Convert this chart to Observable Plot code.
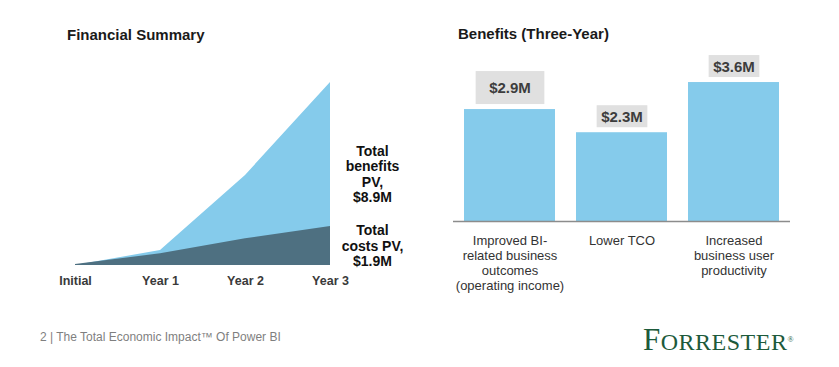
<!DOCTYPE html>
<html>
<head>
<meta charset="utf-8">
<script src="https://cdn.jsdelivr.net/npm/d3@7"></script>
<script src="https://cdn.jsdelivr.net/npm/@observablehq/plot@0.6"></script>
<style>
  html, body { margin: 0; padding: 0; background: #fff; }
  #page { position: relative; width: 839px; height: 367px; background: #fff; overflow: hidden;
          font-family: "Liberation Sans", Arial, sans-serif; }
  .title { position: absolute; font-weight: bold; font-size: 15px; line-height: 17px; color: #1a1a1a; white-space: nowrap; }
  .footer { position: absolute; left: 40px; top: 330px; font-size: 12px; line-height: 14px; color: #7f7f7f; white-space: nowrap; }
  .chart { position: absolute; }
</style>
</head>
<body>
<div id="page">
  <div class="title" style="left:67px; top:26px;">Financial Summary</div>
  <div class="title" style="left:458px; top:25px;">Benefits (Three-Year)</div>
  <div id="left" class="chart" style="left:0px; top:50px;"></div>
  <div id="right" class="chart" style="left:440px; top:50px;"></div>
  <div class="footer">2 | The Total Economic Impact™ Of Power BI</div>
  <svg style="position:absolute; left:630px; top:320px;" width="200" height="40">
    <text x="13" y="30" fill="#1d5a3b" font-family="'Liberation Serif', 'Times New Roman', serif" letter-spacing="0.5"><tspan font-size="31">F</tspan><tspan font-size="24">ORRESTER</tspan><tspan font-size="8" dy="-8">®</tspan></text>
  </svg>
</div>
<script>
// ---- Data: Financial Summary (cumulative PV, $M) ----
const years = ["Initial", "Year 1", "Year 2", "Year 3"];
const benefitsCum = [0, 0.73, 4.38, 8.9];
const costsCum = [0.05, 0.57, 1.3, 1.9];
const totalLabels = ["Total\nbenefits\nPV,\n$8.9M", "Total\ncosts PV,\n$1.9M"];
const totalValues = [8.9, 1.9];

// ---- Data: Benefits (Three-Year), $M ----
const categories = ["Improved BI-related business outcomes (operating income)", "Lower TCO", "Increased business user productivity"];
const categoryLines = ["Improved BI-\nrelated business\noutcomes\n(operating income)", "Lower TCO", "Increased\nbusiness user\nproductivity"];
const benefitValues = [2.9, 2.3, 3.6];
const benefitLabels = ["$2.9M", "$2.3M", "$3.6M"];

// styling (label box padding [horizontal, vertical] per label)
const labelPad = [[13.5, 8], [4.5, 2.5], [4.5, 2.5]];
const labelGap = 5;

const lightBlue = "#85cbeb";
const darkSlate = "#4e7081";
const font = "'Liberation Sans', Arial, sans-serif";

// ---- Left chart ----
const areaData = years.map((y, i) => ({year: y, benefits: benefitsCum[i], costs: costsCum[i]}));
const totalsData = totalLabels.map((t, i) => ({year: years[years.length - 1], mid: totalValues[i] / 2, text: t}));

const left = Plot.plot({
  width: 420,
  height: 250,
  marginLeft: 75,
  marginRight: 90,
  marginTop: 32,
  marginBottom: 35,
  style: {fontFamily: font, fontSize: "13px", color: "#222", background: "transparent", overflow: "visible"},
  x: {type: "point", domain: years, padding: 0, label: null},
  y: {domain: [0, 8.9], axis: null},
  marks: [
    Plot.areaY(areaData, {x: "year", y: "benefits", fill: lightBlue}),
    Plot.areaY(areaData, {x: "year", y: "costs", fill: darkSlate}),
    Plot.axisX({tickSize: 0, tickPadding: 11, fontSize: 12.5, fontWeight: "bold", fill: "#3a3a3a"}),
    Plot.text(totalsData, {x: "year", y: "mid", text: "text", dx: 42, fontSize: 14, fontWeight: "bold", lineHeight: 1.1, fill: "#111"})
  ]
});
document.getElementById("left").appendChild(left);

// ---- Right chart ----
const barData = categories.map((c, i) => ({cat: c, value: benefitValues[i], label: benefitLabels[i], lines: categoryLines[i]}));

const right = Plot.plot({
  width: 360,
  height: 250,
  marginLeft: 13,
  marginRight: 10,
  marginTop: 16.6,
  marginBottom: 79,
  style: {fontFamily: font, fontSize: "13px", color: "#333", background: "transparent", overflow: "visible"},
  x: {type: "band", domain: categories, paddingInner: 0.19, paddingOuter: 0.093, axis: null},
  y: {domain: [0, 4], axis: null},
  marks: [
    Plot.barY(barData, {x: "cat", y: "value", fill: lightBlue}),
    Plot.ruleY([0], {stroke: "#8c8c8c", strokeWidth: 1.6}),
    Plot.text(barData, {x: "cat", y: 0, text: "lines", lineAnchor: "top", dy: 13, fontSize: 13, lineHeight: 1.154, fill: "#333"}),
    Plot.text(barData, {x: "cat", y: "value", text: "label", lineAnchor: "bottom", fontSize: 15, fontWeight: "bold", fill: "#3d3d3d", className: "vlabel"})
  ]
});
document.getElementById("right").appendChild(right);

// grey boxes behind value labels
(function () {
  const svg = right.tagName.toLowerCase() === "svg" ? right : right.querySelector("svg");
  const svgRect = svg.getBoundingClientRect();
  const yS = right.scale("y");
  const texts = svg.querySelectorAll(".vlabel text");
  const markG = texts.length ? texts[0].closest("g.vlabel") || texts[0].parentNode : null;
  const boxG = document.createElementNS("http://www.w3.org/2000/svg", "g");
  texts.forEach((t, i) => {
    const [h, v] = labelPad[i];
    const barTop = yS.apply(benefitValues[i]);
    const r = t.getBoundingClientRect();
    const top = r.top - svgRect.top;
    const bottom = r.bottom - svgRect.top;
    const shift = (barTop - labelGap - v) - bottom;
    t.setAttribute("transform", `translate(0,${shift}) ` + (t.getAttribute("transform") || ""));
    const rect = document.createElementNS("http://www.w3.org/2000/svg", "rect");
    rect.setAttribute("x", r.left - svgRect.left - h);
    rect.setAttribute("y", top + shift - v);
    rect.setAttribute("width", r.width + 2 * h);
    rect.setAttribute("height", r.height + 2 * v);
    rect.setAttribute("fill", "#e0e0e0");
    boxG.appendChild(rect);
  });
  if (markG) {
    let topLevel = markG;
    while (topLevel.parentNode && topLevel.parentNode !== svg) topLevel = topLevel.parentNode;
    svg.insertBefore(boxG, topLevel);
  }
})();
</script>
</body>
</html>
